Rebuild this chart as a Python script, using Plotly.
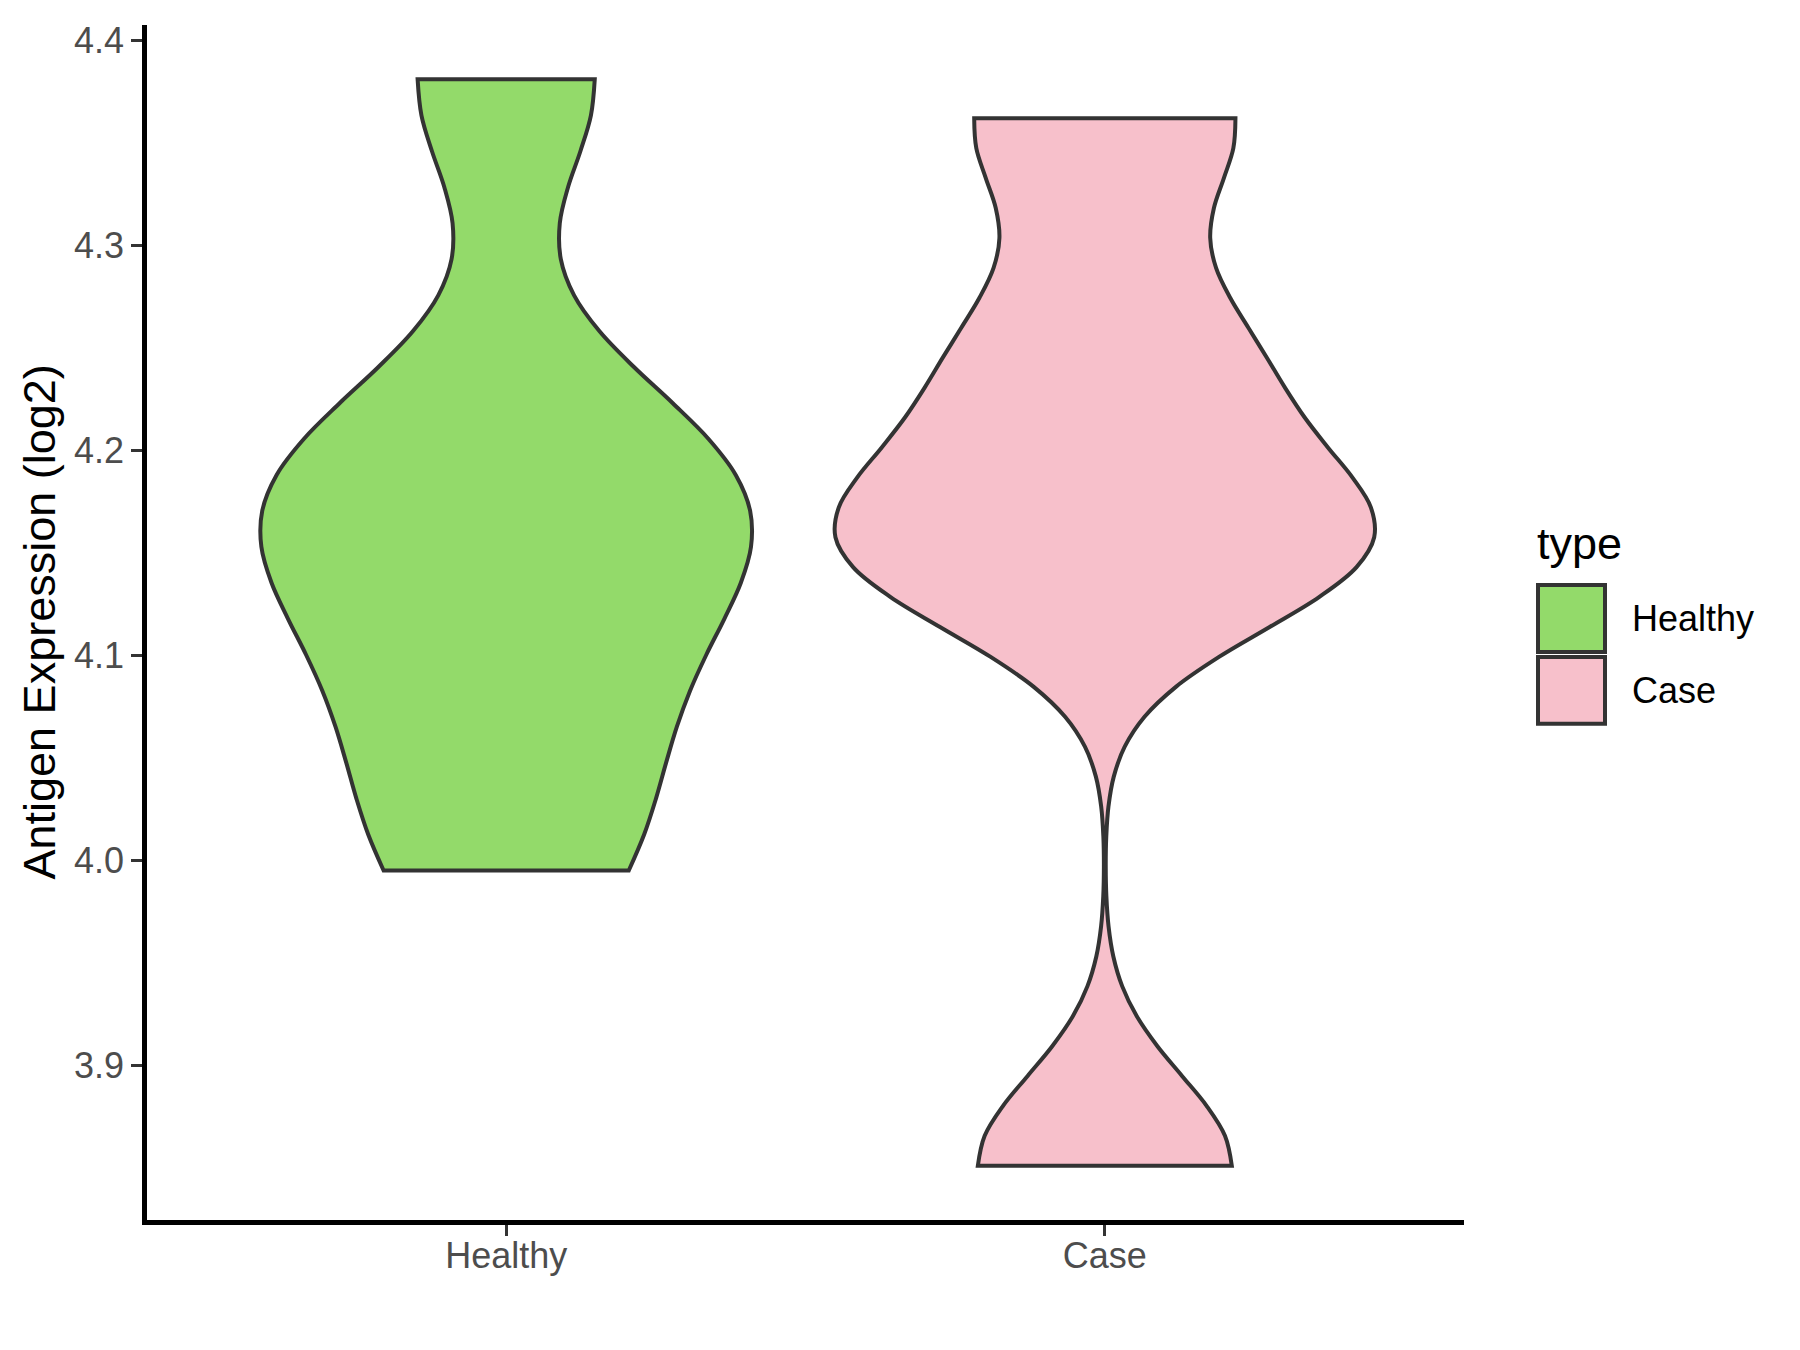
import numpy as np
import plotly.graph_objects as go

# ---- data ----
categories = ["Healthy", "Case"]
healthy_values = [3.995, 4.07, 4.14, 4.17, 4.21, 4.381]
case_values = [3.851, 4.15, 4.16, 4.245, 4.362]
bandwidths = [0.0528, 0.0439]
fill_colors = ["#93DA6A", "#F7C0CB"]
y_tick_values = [3.9, 4.0, 4.1, 4.2, 4.3, 4.4]
legend_title = "type"
y_title = "Antigen Expression (log2)"

series = [healthy_values, case_values]


def max_density(v, bw):
    v = np.asarray(v, dtype=float)
    grid = np.linspace(v.min(), v.max(), 512)
    d = np.exp(-0.5 * ((grid[:, None] - v[None, :]) / bw) ** 2).sum(axis=1)
    return (d / (len(v) * bw * np.sqrt(2 * np.pi))).max()


# ggplot scale="area": widths proportional to each violin's peak density
maxd = [max_density(v, b) for v, b in zip(series, bandwidths)]
widths = [0.9 * m / max(maxd) for m in maxd]

FONT = "Liberation Sans, Arial, sans-serif"
OUTLINE = "#333333"

fig = go.Figure()
for cat, vals, col, bw, w in zip(categories, series, fill_colors, bandwidths, widths):
    fig.add_trace(go.Violin(
        x=[cat] * len(vals), y=vals, name=cat,
        fillcolor=col, line=dict(color=OUTLINE, width=4),
        spanmode="hard", bandwidth=bw, points=False,
        box_visible=False, meanline_visible=False,
        scalemode="width", width=w, opacity=1,
        showlegend=False, hoverinfo="skip",
    ))

# page offset of the default html body margin
OFF = 8
W, H = 1800 - OFF, 1350 - OFF
# plot area in screen pixels
L, R, T, B = 147, 1464, 23, 1220


def px_x(p):
    return (p - L) / (R - L)


def px_y(p):
    return (B - p) / (B - T)


fig.update_layout(
    width=W, height=H,
    margin=dict(l=L - OFF, r=W - (R - OFF), t=T - OFF, b=H - (B - OFF), pad=0),
    paper_bgcolor="white", plot_bgcolor="white",
    violinmode="overlay", violingap=0, violingroupgap=0,
    showlegend=False,
    font=dict(family=FONT, color="#4D4D4D"),
)

fig.update_xaxes(
    type="category", categoryorder="array", categoryarray=categories,
    range=[-0.6, 1.6],
    showline=True, linecolor="black", linewidth=4.5,
    ticks="outside", ticklen=11, tickwidth=3, tickcolor=OUTLINE,
    tickfont=dict(size=36, color="#4D4D4D", family=FONT),
    ticklabelstandoff=-11,
    showgrid=False, zeroline=False, mirror=False,
)
fig.update_yaxes(
    range=[3.8245, 4.4075],
    tickvals=y_tick_values, tickformat=".1f",
    showline=True, linecolor="black", linewidth=4.5,
    ticks="outside", ticklen=11, tickwidth=3, tickcolor=OUTLINE,
    tickfont=dict(size=36, color="#4D4D4D", family=FONT),
    ticklabelstandoff=0,
    showgrid=False, zeroline=False, mirror=False,
)

annotations = [
    dict(text=y_title, xref="paper", yref="paper", x=px_x(39), y=0.5,
         textangle=-90, showarrow=False, xanchor="center", yanchor="middle",
         font=dict(size=45, color="black", family=FONT)),
    dict(text=legend_title, xref="paper", yref="paper", x=px_x(1535), y=px_y(542),
         showarrow=False, xanchor="left", yanchor="middle",
         font=dict(size=45, color="black", family=FONT)),
]
shapes = []
key_tops = [584, 656]
key_size = 67
for cat, col, top in zip(categories, fill_colors, key_tops):
    shapes.append(dict(type="rect", xref="paper", yref="paper",
                       x0=px_x(1538), x1=px_x(1538 + key_size),
                       y0=px_y(top + key_size), y1=px_y(top),
                       fillcolor=col, line=dict(color=OUTLINE, width=4)))
    annotations.append(dict(text=cat, xref="paper", yref="paper",
                            x=px_x(1630), y=px_y(top + key_size / 2),
                            showarrow=False, xanchor="left", yanchor="middle",
                            font=dict(size=36, color="black", family=FONT)))

fig.update_layout(annotations=annotations, shapes=shapes)
fig.write_html("out.html")
